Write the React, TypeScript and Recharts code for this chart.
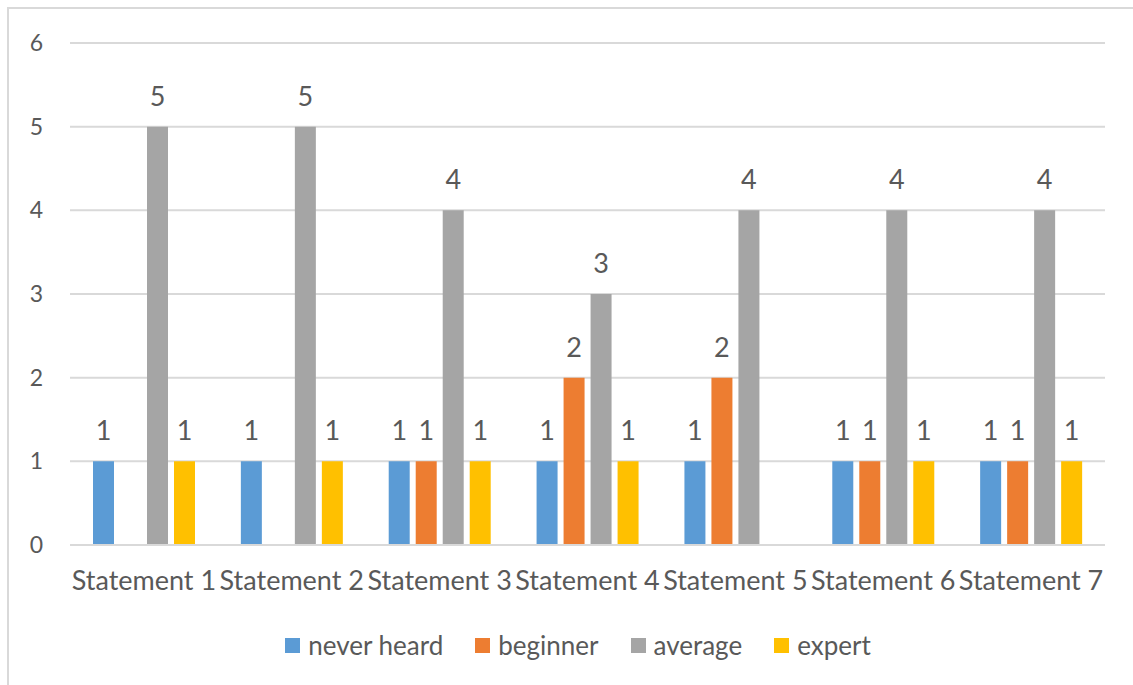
import React from 'react';
import {
  BarChart,
  Bar,
  XAxis,
  YAxis,
  CartesianGrid,
  Legend,
  LabelList,
} from 'recharts';

// Survey results: how many respondents chose each familiarity level per statement
const categories = [
  'Statement 1',
  'Statement 2',
  'Statement 3',
  'Statement 4',
  'Statement 5',
  'Statement 6',
  'Statement 7',
];
const neverHeard = [1, 1, 1, 1, 1, 1, 1];
const beginner = [0, 0, 1, 2, 2, 1, 1];
const average = [5, 5, 4, 3, 4, 4, 4];
const expert = [1, 1, 1, 1, 0, 1, 1];
const yTicks = [0, 1, 2, 3, 4, 5, 6];

const series = [
  { key: 'never heard', values: neverHeard, color: '#5B9BD5' },
  { key: 'beginner', values: beginner, color: '#ED7D31' },
  { key: 'average', values: average, color: '#A5A5A5' },
  { key: 'expert', values: expert, color: '#FFC000' },
];

const data = categories.map((name, i) => {
  const row: Record<string, string | number> = { name };
  series.forEach((s) => {
    row[s.key] = s.values[i];
  });
  return row;
});

const FONT = 'Lato, "Open Sans", sans-serif';
const TEXT = '#595959';
const GRID = '#d9d9d9';

// Value above each bar; empty counts get no label
const ValueLabel = (props: any) => {
  const { x, y, width, value } = props;
  if (!value) return null;
  return (
    <text
      x={Number(x) + Number(width) / 2}
      y={Number(y) - 21}
      textAnchor="middle"
      fontFamily={FONT}
      fontSize={27}
      fill={TEXT}
    >
      {value}
    </text>
  );
};

// Legend keeps the series order (never heard → expert)
const LegendContent = () => (
  <div
    style={{
      display: 'flex',
      justifyContent: 'center',
      alignItems: 'center',
      height: 40,
      paddingLeft: 42,
      fontFamily: FONT,
      fontSize: 26,
      color: TEXT,
    }}
  >
    {series.map((s, i) => (
      <div
        key={s.key}
        style={{
          display: 'flex',
          alignItems: 'center',
          marginLeft: i === 0 ? 0 : 32,
        }}
      >
        <span
          style={{
            display: 'inline-block',
            width: 15,
            height: 15,
            background: s.color,
            marginRight: 8,
          }}
        />
        <span style={{ lineHeight: '40px' }}>{s.key}</span>
      </div>
    ))}
  </div>
);

export default function App() {
  return (
    <div
      style={{
        position: 'fixed',
        left: 7,
        top: 7,
        width: 1128,
        height: 680,
        borderLeft: `2px solid ${GRID}`,
        borderTop: `2px solid ${GRID}`,
        background: '#fff',
        overflow: 'hidden',
      }}
    >
      <BarChart
        width={1124}
        height={676}
        data={data}
        margin={{ top: 34, right: 28, bottom: 20, left: 0 }}
        barSize={21}
        barGap={6}
      >
        <CartesianGrid vertical={false} stroke={GRID} strokeWidth={2} />
        <XAxis
          dataKey="name"
          height={80}
          tickLine={false}
          tickSize={0}
          tickMargin={26}
          axisLine={{ stroke: GRID, strokeWidth: 2 }}
          tick={{ fill: TEXT, fontSize: 27, fontFamily: FONT }}
          interval={0}
        />
        <YAxis
          width={61}
          domain={[0, 6]}
          ticks={yTicks}
          tickLine={false}
          axisLine={false}
          tickSize={0}
          tickMargin={27}
          tick={{ fill: TEXT, fontSize: 23, fontFamily: FONT }}
        />
        <Legend verticalAlign="bottom" height={40} content={<LegendContent />} />
        {series.map((s) => (
          <Bar key={s.key} dataKey={s.key} fill={s.color} isAnimationActive={false}>
            <LabelList dataKey={s.key} content={<ValueLabel />} />
          </Bar>
        ))}
      </BarChart>
    </div>
  );
}
